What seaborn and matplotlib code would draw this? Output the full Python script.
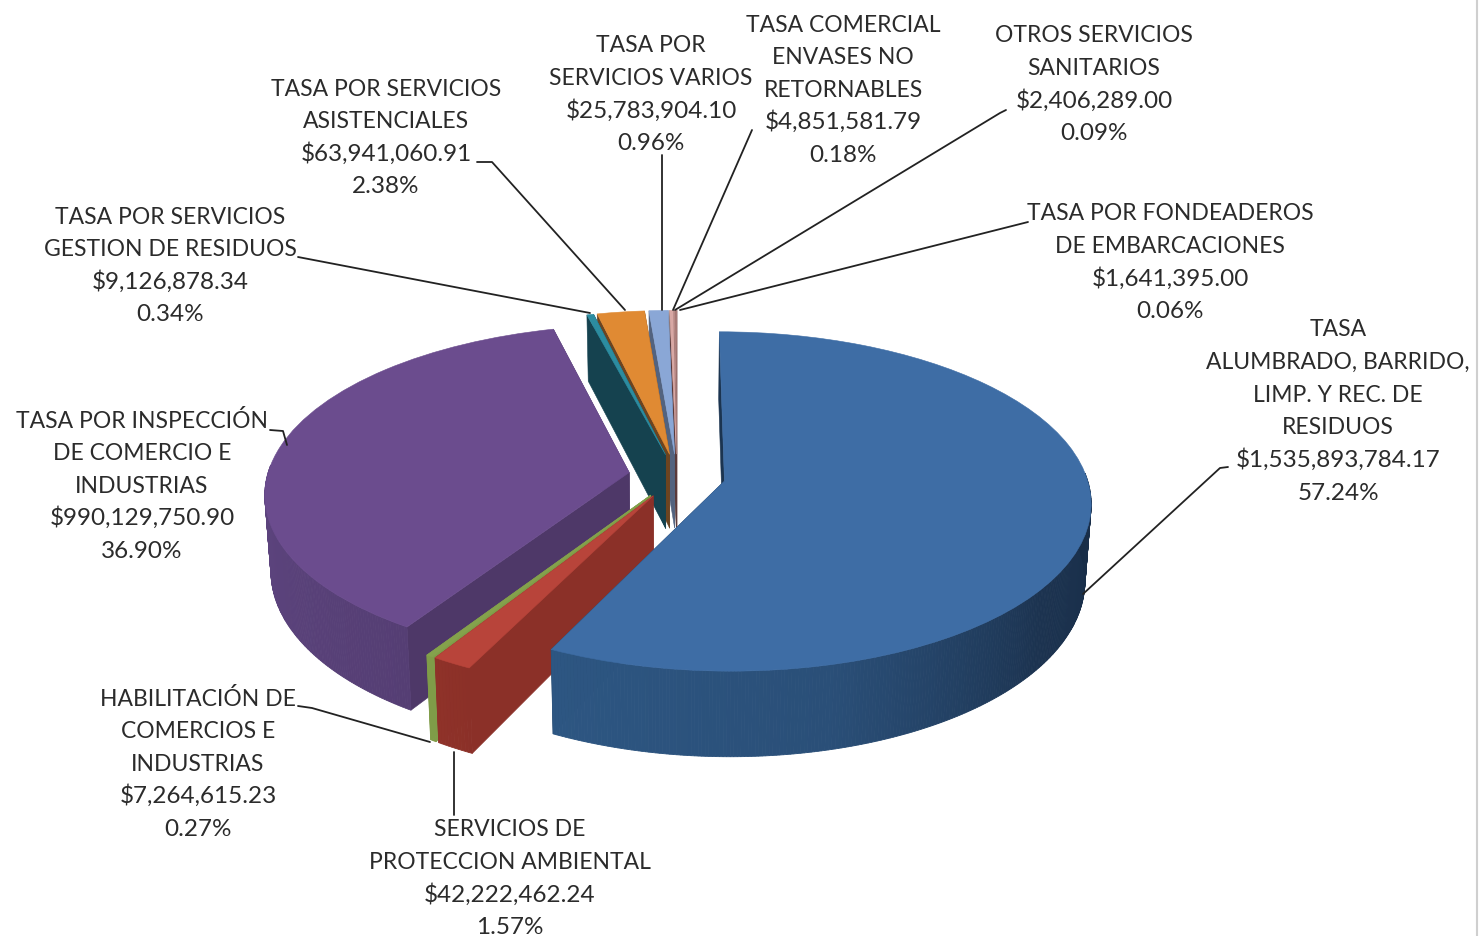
import numpy as np
import matplotlib
matplotlib.use("Agg")
import matplotlib.pyplot as plt
from matplotlib.transforms import Transform
import seaborn as sns

names = ["TASA\nALUMBRADO, BARRIDO,\nLIMP. Y REC. DE\nRESIDUOS",
         "SERVICIOS DE\nPROTECCION AMBIENTAL",
         "HABILITACIÓN DE\nCOMERCIOS E\nINDUSTRIAS",
         "TASA POR INSPECCIÓN\nDE COMERCIO E\nINDUSTRIAS",
         "TASA POR SERVICIOS\nGESTION DE RESIDUOS",
         "TASA POR SERVICIOS\nASISTENCIALES",
         "TASA POR\nSERVICIOS VARIOS",
         "TASA COMERCIAL\nENVASES NO\nRETORNABLES",
         "OTROS SERVICIOS\nSANITARIOS",
         "TASA POR FONDEADEROS\nDE EMBARCACIONES"]
values = [1535893784.17, 42222462.24, 7264615.23, 990129750.90, 9126878.34,
          63941060.91, 25783904.10, 4851581.79, 2406289.00, 1641395.00]
percents = [57.24, 1.57, 0.27, 36.90, 0.34, 2.38, 0.96, 0.18, 0.09, 0.06]

top_colors = ["#3e6da5", "#b8443a", "#84a24c", "#6b4c8e", "#2c8ca0",
              "#e08a33", "#8aa7d6", "#d8a8a4", "#b98a86", "#a87a76"]
wall_colors = [("#2d5682", "#2a4f78", "#1c3350", "#182d47"), ("#8f3229", "#8b3028"), ("#7f9c48", "#7f9c48"),
               ("#5e4580", "#553e74"), ("#15424f", "#15424f"), ("#8a5520", "#8a5520"),
               ("#53637f", "#53637f"), ("#5a3a3a", "#5a3a3a"), ("#5a3a3a", "#5a3a3a"),
               ("#8a6a68", "#8a6a68")]
cut_colors = ["#1b3450", "#8b3028", "#7f9c48", "#4e3868", "#15424f",
              "#6d4420", "#53637f", "#5a3a3a", "#5a3a3a", "#8a6a68"]

# layout, pixels: centre x and middle of the first line of each label
label_pos = [(1338, 328), (510, 828), (198, 697), (142, 419), (170, 215),
             (386, 87), (651, 44), (843, 23), (1094, 34), (1170, 212)]
leaders = [[(1228, 467), (1220, 468), (1083, 594)],
           [(454, 752), (454, 815)],
           [(298, 706), (312, 708), (430, 742)],
           [(270, 430), (283, 431), (287, 445)],
           [(298, 257), (590, 313)],
           [(477, 162), (492, 162), (625, 310)],
           [(662, 155), (662, 310)],
           [(752, 130), (673, 310)],
           [(1006, 110), (1000, 113), (675, 310)],
           [(1028, 222), (680, 310)]]
draw_order = [9, 8, 7, 6, 5, 4, 3, 2, 1, 0]

CX, CY, RX, RY, TILT, DEPTH = 677, 476, 362, 166, 0.12, 75
EXPLODE = 0.134
LINE_STEP = 32.6


def project(xy, z=0.0):
    xy = np.asarray(xy, dtype=float)
    s = 1 / (1 + TILT * xy[:, 1])
    u = CX + RX * xy[:, 0] * s * (1 - 0.015 * z)
    v = CY - RY * xy[:, 1] * s + DEPTH * s * z
    return np.column_stack([u, v])


class PieTilt(Transform):
    input_dims = 2
    output_dims = 2

    def transform_non_affine(self, values):
        return project(values)


def rim(w, a):
    a = np.radians(a)
    return np.column_stack([w.center[0] + w.r * np.cos(a), w.center[1] + w.r * np.sin(a)])


def area(p):
    return 0.5 * np.sum(p[:, 0] * np.roll(p[:, 1], -1) - np.roll(p[:, 0], -1) * p[:, 1])


sns.set_theme(style="white")
plt.rcParams["font.family"] = ["Lato", "DejaVu Sans"]

fig = plt.figure(figsize=(14.8, 9.36), dpi=100)
ax = fig.add_axes([0, 0, 1, 1])
wedges, _ = ax.pie(values, colors=top_colors, startangle=90, counterclock=False,
                   explode=[EXPLODE] * len(values), radius=1)
tilt = PieTilt() + ax.transData
ax.set_aspect("auto")
ax.set_xlim(0, 1480)
ax.set_ylim(936, 0)

for rank, i in enumerate(draw_order):
    w = wedges[i]
    base = 10 + rank * 5
    w.set_transform(tilt)
    w.set_zorder(base + 3)
    w.set_edgecolor(top_colors[i])
    w.set_linewidth(0.4)

    # cut faces from the centre to both ends of the slice, hidden one first
    faces = []
    for a in (w.theta1, w.theta2):
        ends = np.vstack([[w.center], rim(w, [a])])
        faces.append(np.vstack([project(ends), project(ends[::-1], 1.0)]))
    faces.sort(key=lambda p: abs(area(p)))
    for j, poly in enumerate(faces):
        ax.fill(poly[:, 0], poly[:, 1], color=cut_colors[i], lw=0.4, zorder=base + j * 0.1)

    # outer wall in thin strips, only the part that faces the viewer
    angles = np.linspace(w.theta1, w.theta2, max(3, int((w.theta2 - w.theta1) * 2)))
    angles = angles[np.sin(np.radians(angles)) < 0.05]
    if len(angles) > 1:
        shades = sns.blend_palette(list(wall_colors[i]), len(angles))
        order = np.argsort(np.cos(np.radians(angles)))
        for k, m in enumerate(order):
            if m + 1 >= len(angles):
                continue
            seg = rim(w, angles[m:m + 2])
            poly = np.vstack([project(seg), project(seg[::-1], 1.0)])
            ax.fill(poly[:, 0], poly[:, 1], color=shades[k], lw=0.6, zorder=base + 1)

for name, value, pct, (x, y), path in zip(names, values, percents, label_pos, leaders):
    lines = name.split("\n")
    for n, line in enumerate(lines):
        ax.text(x, y + 8.5 + n * LINE_STEP, line, ha="center", va="baseline",
                fontsize=16.5, color="#2b2b2b", zorder=80)
    for n, line in enumerate([f"${value:,.2f}", f"{pct:.2f}%"], start=len(lines)):
        ax.text(x, y + 8.5 + n * LINE_STEP, line, ha="center", va="baseline",
                fontsize=17.5, color="#2b2b2b", zorder=80)
    xs, ys = zip(*path)
    ax.plot(xs, ys, color="#222222", lw=1.3, zorder=70)

ax.axvline(1477, color="#cfcfcf", lw=1.5)
fig.savefig("out.png", dpi=100, facecolor="white")
